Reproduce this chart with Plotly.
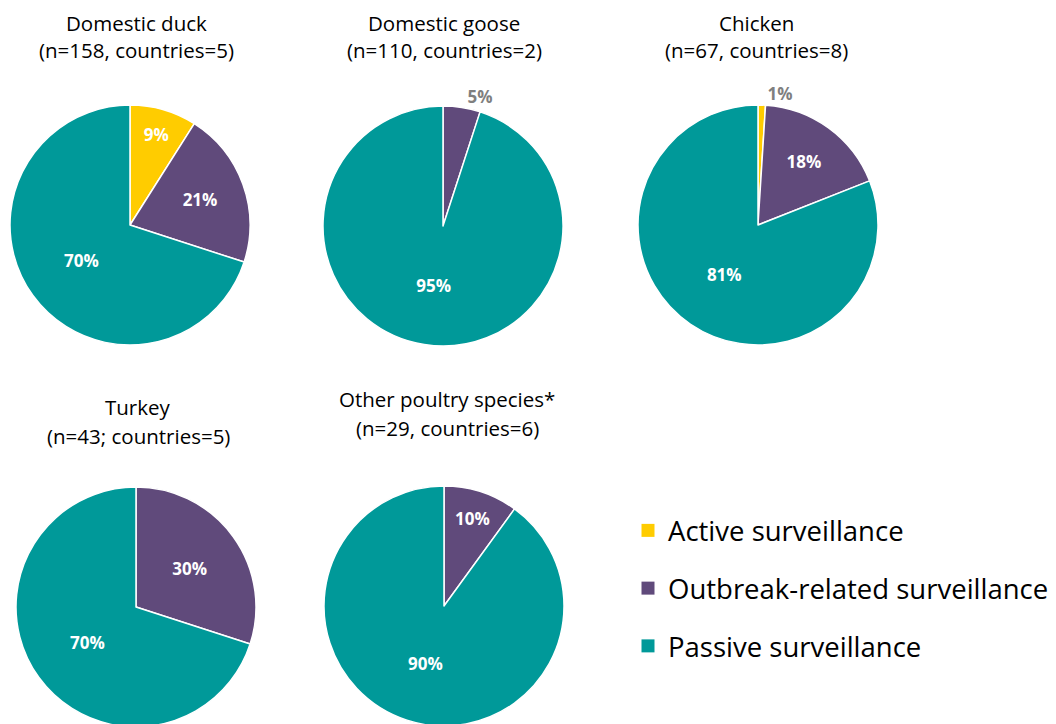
import plotly.graph_objects as go

categories = ["Active surveillance", "Outbreak-related surveillance", "Passive surveillance"]
colors = ["#FFCC00", "#604A7B", "#009999"]

species = ["Domestic duck", "Domestic goose", "Chicken", "Turkey", "Other poultry species*"]
subtitles = ["(n=158, countries=5)", "(n=110, countries=2)", "(n=67, countries=8)",
             "(n=43; countries=5)", "(n=29, countries=6)"]
duck = [9, 21, 70]
goose = [0, 5, 95]
chicken = [1, 18, 81]
turkey = [0, 30, 70]
other = [0, 10, 90]
values = [duck, goose, chicken, turkey, other]

W, H = 1056, 724
OFF = 8  # page body margin
FONT = "Open Sans"


def px(x):
    return (x - OFF) / W


def py(y):
    return 1 - (y - OFF) / H


# pie bounding boxes in screen pixels (left, right, top, bottom)
boxes = [(10, 250, 105, 345), (323, 563, 106, 346), (638, 878, 105, 345),
         (16, 256, 487, 727), (324, 564, 486, 726)]
title_pos = [(136, 23, 50), (444, 23, 50), (756, 23, 50), (138, 407, 436), (447, 399, 428)]

fig = go.Figure()
for i, vals in enumerate(values):
    l, r, t, b = boxes[i]
    texts, pos = [], []
    for v in vals:
        texts.append(f"{v}%" if v > 0 else "")
        pos.append("outside" if 0 < v < 7 else "inside")
    fig.add_trace(go.Pie(
        labels=categories, values=vals, text=texts, textinfo="text",
        textposition=pos, sort=False, direction="clockwise", rotation=0,
        marker=dict(colors=colors, line=dict(color="white", width=1.5)),
        insidetextfont=dict(color="white", size=17, family=FONT, weight="bold"),
        outsidetextfont=dict(color="#7F7F7F", size=17, family=FONT, weight="bold"),
        insidetextorientation="horizontal",
        domain=dict(x=[px(l), px(r)], y=[max(0, py(b)), py(t)]),
        showlegend=False, hoverinfo="label+percent",
    ))

for name, c in zip(categories, colors):
    fig.add_trace(go.Scatter(x=[None], y=[None], mode="markers", name=name,
                             legendgroup=name,
                             marker=dict(symbol="square", size=13, color=c)))

annotations = []
for i, (sp, sub) in enumerate(zip(species, subtitles)):
    cx, y1, y2 = title_pos[i]
    for txt, yy in ((sp, y1), (sub, y2)):
        annotations.append(dict(text=txt, x=px(cx), y=py(yy), xref="paper", yref="paper",
                                xanchor="center", yanchor="middle", showarrow=False,
                                font=dict(size=20.5, color="black", family=FONT)))

fig.update_layout(
    width=W, height=H, margin=dict(l=0, r=0, t=0, b=0),
    paper_bgcolor="white", plot_bgcolor="white",
    xaxis=dict(visible=False), yaxis=dict(visible=False),
    annotations=annotations,
    legend=dict(x=px(628), y=py(506), xanchor="left", yanchor="top",
                font=dict(size=27.5, color="black", family=FONT),
                tracegroupgap=19, bgcolor="rgba(0,0,0,0)"),
)

fig.write_html("out.html")
